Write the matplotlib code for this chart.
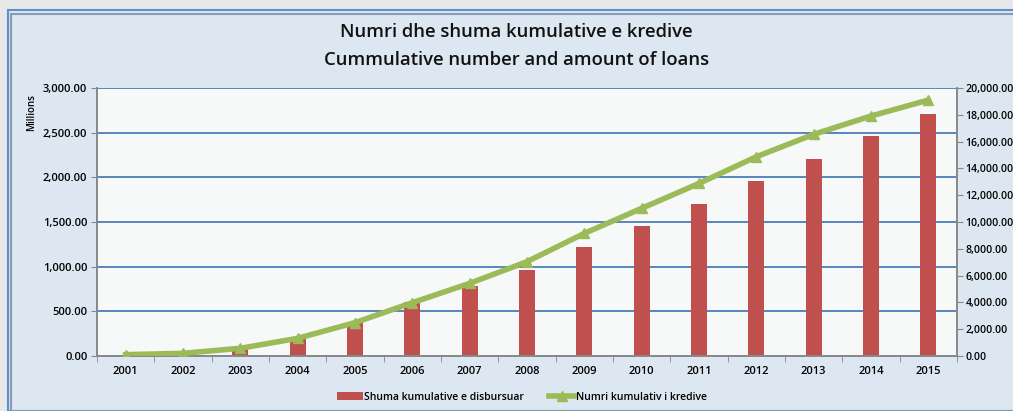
import numpy as np
import matplotlib.pyplot as plt
from matplotlib.patches import Rectangle
from matplotlib.ticker import FuncFormatter, MultipleLocator

years = ['2001', '2002', '2003', '2004', '2005', '2006', '2007', '2008',
         '2009', '2010', '2011', '2012', '2013', '2014', '2015']
# shuma kumulative (milion)
amount = [5, 20, 80, 210, 385, 608, 787, 963,
          1217, 1455, 1701, 1959, 2205, 2459, 2709]
# numri kumulativ i kredive
count = [100, 200, 575, 1320, 2490, 3980, 5420, 7040,
         9150, 11020, 12880, 14870, 16540, 17910, 19100]

plt.rcParams['font.family'] = ['Open Sans', 'DejaVu Sans']

fig = plt.figure(figsize=(10.13, 4.11), dpi=100, facecolor='#e8e8e8')
W, H = 1013.0, 411.0
# outer frame
fig.patches.append(Rectangle((8 / W, 0), 1.0, 1 - 10 / H, transform=fig.transFigure,
                             facecolor='#dce7f2', edgecolor='#5b8fd0', lw=1.5, zorder=-10))
fig.patches.append(Rectangle((11 / W, 0), 1.0, 1 - 14 / H, transform=fig.transFigure,
                             facecolor='none', edgecolor='#8a9bb0', lw=1.5, zorder=-9))

ax = fig.add_axes([97 / W, 1 - 356 / H, 860 / W, 268 / H])
ax.set_facecolor('#f7f8f8')
x = np.arange(len(years))

bars = ax.bar(x, amount, width=0.28, color='#c0504d', zorder=2,
              label='Shuma kumulative e disbursuar')
ax.set_xlim(-0.5, len(years) - 0.5)
ax.set_ylim(0, 3000)
ax.yaxis.set_major_locator(MultipleLocator(500))
ax.yaxis.set_major_formatter(FuncFormatter(lambda v, p: '{:,.2f}'.format(v)))
ax.grid(axis='y', color='#4a7ebb', lw=1.3, zorder=1)
ax.set_axisbelow(True)
ax.set_xticks(x)
ax.set_xticklabels(years)
ax.set_xticks(np.arange(-0.5, len(years), 1), minor=True)
ax.tick_params(axis='x', which='major', length=0, pad=7, labelsize=8)
ax.tick_params(axis='x', which='minor', length=4, color='#888888')
ax.tick_params(axis='y', length=4, color='#888888', labelsize=8, pad=3)
for lab in ax.get_xticklabels() + ax.get_yticklabels():
    lab.set_fontweight('semibold')
for s in ['left', 'bottom', 'right']:
    ax.spines[s].set_color('#888888')
    ax.spines[s].set_linewidth(1.2)
ax.spines['top'].set_visible(False)
ax.set_ylabel('Millions', fontsize=7, fontweight='semibold')
ax.yaxis.set_label_coords(-0.07, 0.91)

ax2 = ax.twinx()
line, = ax2.plot(x, count, color='#9bbb59', lw=4, marker='^', markersize=7,
                 zorder=3, label='Numri kumulativ i kredive')
ax2.set_ylim(0, 20000)
ax2.yaxis.set_major_locator(MultipleLocator(2000))
ax2.yaxis.set_major_formatter(FuncFormatter(lambda v, p: '{:,.2f}'.format(v)))
ax2.tick_params(axis='y', length=4, color='#888888', labelsize=7.6, pad=2)
for lab in ax2.get_yticklabels():
    lab.set_fontweight('semibold')
for s in ['left', 'bottom', 'right']:
    ax2.spines[s].set_color('#888888')
    ax2.spines[s].set_linewidth(1.2)
ax2.spines['top'].set_visible(False)

fig.text(0.51, 1 - 46 / H, 'Numri dhe shuma kumulative e kredive\nCummulative number and amount of loans',
         ha='center', va='center', fontsize=13.3, fontweight='semibold', color='#111111',
         linespacing=1.65)

fig.legend([bars, line], ['Shuma kumulative e disbursuar', 'Numri kumulativ i kredive'],
           loc='center', bbox_to_anchor=(0.515, 1 - 397 / H), ncol=2, frameon=False,
           handlelength=2.5, handletextpad=0.1, columnspacing=2.4,
           prop={'weight': 'semibold', 'size': 7.5})

fig.savefig('out.png', dpi=100, facecolor=fig.get_facecolor())
